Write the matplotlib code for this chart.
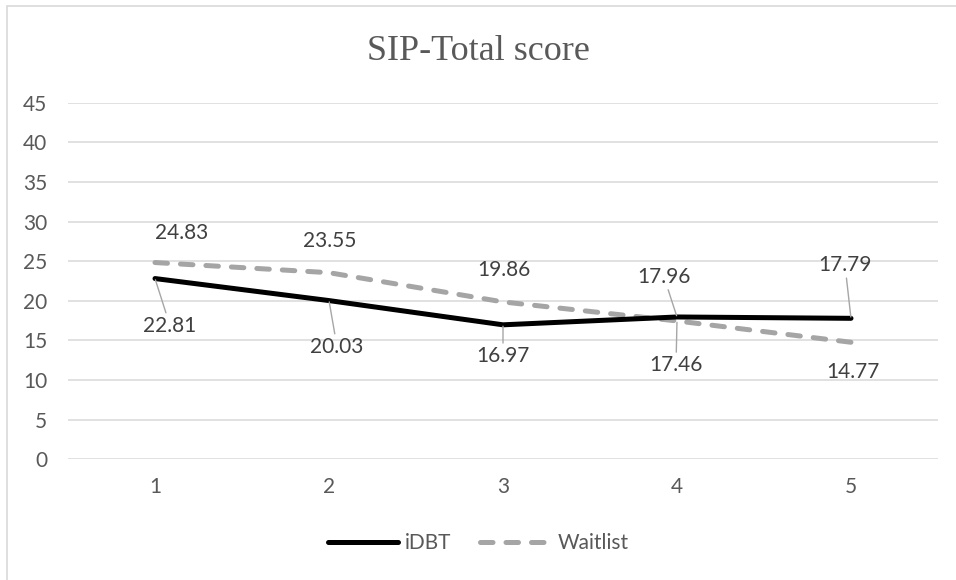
import matplotlib.pyplot as plt
from matplotlib.patches import Rectangle

# data
visits = ['1', '2', '3', '4', '5']
idbt = [22.81, 20.03, 16.97, 17.96, 17.79]
waitlist = [24.83, 23.55, 19.86, 17.46, 14.77]

# label offsets in pixels (dx, dy) and whether a leader line is drawn
idbt_offsets = [(15, -47), (8, -46), (0, -31), (-13, 40), (-6, 53)]
idbt_leaders = [True, True, True, True, True]
wait_offsets = [(27, 30), (1, 32), (1, 32), (-1, -44), (2, -30)]
wait_leaders = [False, False, False, True, False]

plt.rcParams['font.family'] = ['Lato', 'DejaVu Sans']

fig = plt.figure(figsize=(9.56, 5.8), dpi=100)
ax = fig.add_axes([68 / 956, 1 - 459.3 / 580, 870 / 956, 356.6 / 580])

# chart border (only top and left visible in the crop)
fig.patches.append(Rectangle((6.5 / 956, -0.1), 1.2, 1.1 - 6 / 580,
                             transform=fig.transFigure, fill=False,
                             edgecolor='#d9d9d9', lw=1.2))

ax.plot(visits, idbt, color='black', lw=3.6, solid_capstyle='round',
        solid_joinstyle='round', label='iDBT', zorder=3)
ln, = ax.plot(visits, waitlist, color='#a5a5a5', lw=3.6, label='Waitlist',
              dash_capstyle='round', zorder=2)
ln.set_dashes([2.5, 2.6])

ax.set_ylim(0, 45)
ax.set_xlim(-0.5, 4.5)
ax.set_yticks(range(0, 50, 5))
ax.grid(axis='y', color='#d9d9d9', lw=1.1)
ax.set_axisbelow(True)
for s in ax.spines.values():
    s.set_visible(False)
ax.tick_params(axis='both', length=0, labelsize=15, labelcolor='#595959')
ax.tick_params(axis='y', pad=15)
ax.tick_params(axis='x', pad=13)

def add_labels(values, offsets, leaders):
    for i, v in enumerate(values):
        ap = None
        if leaders[i]:
            ap = dict(arrowstyle='-', color='#a6a6a6', lw=1, shrinkA=0, shrinkB=1)
        ax.annotate(f'{v:.2f}', (i, v), xytext=offsets[i], textcoords='offset pixels',
                    ha='center', va='center', fontsize=15, color='#404040',
                    arrowprops=ap, zorder=4)

add_labels(idbt, idbt_offsets, idbt_leaders)
add_labels(waitlist, wait_offsets, wait_leaders)

fig.text(0.5, 1 - 52 / 580, 'SIP-Total score', ha='center', va='center',
         fontsize=26, color='#595959', family='Liberation Serif')

fig.legend(loc='center', bbox_to_anchor=(0.5, 1 - 543 / 580), ncol=2, frameon=False,
           fontsize=15, labelcolor='#595959', handlelength=3.4, handletextpad=0.3,
           columnspacing=1.4)

fig.savefig('out.png', dpi=100)
